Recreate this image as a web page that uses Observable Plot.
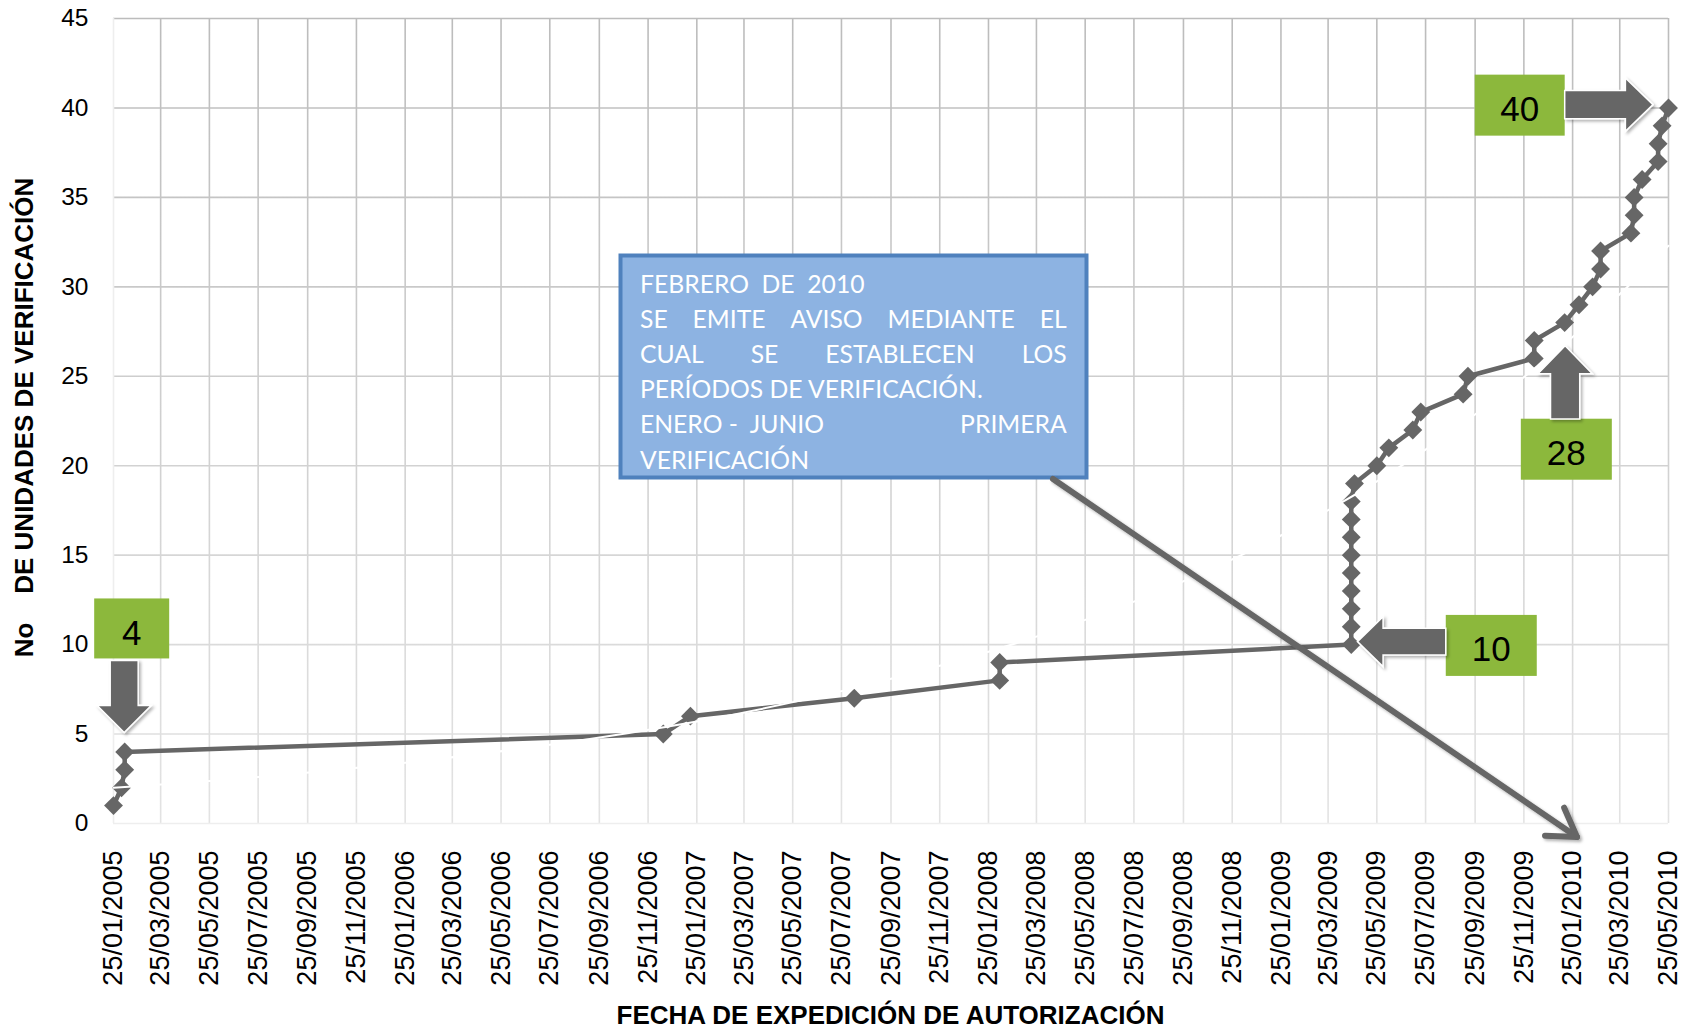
<!DOCTYPE html>
<html>
<head>
<meta charset="utf-8">
<script src="https://cdn.jsdelivr.net/npm/d3@7"></script>
<script src="https://cdn.jsdelivr.net/npm/@observablehq/plot@0.6"></script>
<style>
  html, body { margin: 0; padding: 0; background: #ffffff; }
  #chart { position: relative; width: 1687px; height: 1029px; overflow: hidden; }
</style>
</head>
<body>
<div id="chart"></div>
<script>
// ---------------- DATA ----------------
const pointDates = [
  "25/01/2005","04/02/2005","08/02/2005","08/02/2005",
  "14/12/2006","17/01/2007","10/08/2007","08/02/2008","08/02/2008",
  "23/04/2009","23/04/2009","23/04/2009","23/04/2009","23/04/2009",
  "23/04/2009","23/04/2009","23/04/2009","23/04/2009",
  "27/04/2009","25/05/2009","09/06/2009","09/07/2009","19/07/2009",
  "10/09/2009","16/09/2009","08/12/2009","08/12/2009",
  "15/01/2010","02/02/2010","19/02/2010","01/03/2010","01/03/2010",
  "08/04/2010","12/04/2010","12/04/2010","22/04/2010",
  "12/05/2010","12/05/2010","17/05/2010","25/05/2010"
];
const pointValues = [
  1, 2, 3, 4,
  5, 6, 7, 8, 9,
  10, 11, 12, 13, 14, 15, 16, 17, 18,
  19, 20, 21, 22, 23,
  24, 25, 26, 27,
  28, 29, 30, 31, 32,
  33, 34, 35, 36,
  37, 38, 39, 40
];
// light trend line
const trendDates = [
  "25/01/2005","25/07/2005","25/01/2006","25/07/2006","25/01/2007","25/07/2007",
  "25/01/2008","25/07/2008","25/01/2009","25/07/2009","25/01/2010","25/05/2010"
];
const trendValues = [2.0, 2.6, 3.4, 4.4, 5.7, 7.4, 9.6, 12.4, 16.1, 20.9, 27.2, 32.3];

const xTickLabels = [
  "25/01/2005","25/03/2005","25/05/2005","25/07/2005","25/09/2005","25/11/2005",
  "25/01/2006","25/03/2006","25/05/2006","25/07/2006","25/09/2006","25/11/2006",
  "25/01/2007","25/03/2007","25/05/2007","25/07/2007","25/09/2007","25/11/2007",
  "25/01/2008","25/03/2008","25/05/2008","25/07/2008","25/09/2008","25/11/2008",
  "25/01/2009","25/03/2009","25/05/2009","25/07/2009","25/09/2009","25/11/2009",
  "25/01/2010","25/03/2010","25/05/2010"
];
const yTicks = [0, 5, 10, 15, 20, 25, 30, 35, 40, 45];

const calloutLabels = ["4", "10", "28", "40"];
const calloutDates = ["08/02/2005", "23/04/2009", "15/01/2010", "25/05/2010"];
const calloutValues = [4, 10, 28, 40];

const noteLines = [
  {parts: ["FEBRERO  DE  2010"], justify: false},
  {parts: ["SE", "EMITE", "AVISO", "MEDIANTE", "EL"], justify: true},
  {parts: ["CUAL", "SE", "ESTABLECEN", "LOS"], justify: true},
  {parts: ["PERÍODOS DE VERIFICACIÓN."], justify: false},
  {parts: ["ENERO -  JUNIO", "PRIMERA"], justify: true},
  {parts: ["VERIFICACIÓN"], justify: false}
];
const xTitle = "FECHA DE EXPEDICIÓN DE AUTORIZACIÓN";
const yTitle = "No    DE UNIDADES DE VERIFICACIÓN";

// ---------------- BUILD ----------------
const parse = d3.utcParse("%d/%m/%Y");
const points = pointDates.map((d, i) => ({date: parse(d), value: pointValues[i]}));
const trend = trendDates.map((d, i) => ({date: parse(d), value: trendValues[i]}));
const xTicks = xTickLabels.map(parse);

const FONT = "'Liberation Sans', Arial, sans-serif";
const DARK = "#666666";

const chart = Plot.plot({
  width: 1687,
  height: 1029,
  marginLeft: 113,
  marginRight: 19,
  marginTop: 18,
  marginBottom: 206,
  x: {type: "utc", domain: [xTicks[0], xTicks[xTicks.length - 1]]},
  y: {domain: [0, 45]},
  style: {fontFamily: FONT, background: "#ffffff", color: "#000000", overflow: "visible"},
  marks: [
    Plot.gridX(xTicks.slice(1), {stroke: "url(#gridGrad)", strokeOpacity: 1, strokeWidth: 1.6}),
    Plot.gridY(yTicks.slice(1), {stroke: "url(#gridGrad)", strokeOpacity: 1, strokeWidth: 1.6}),
    Plot.ruleX([xTicks[0]], {stroke: "#eeeeee", strokeWidth: 1.6}),
    Plot.ruleY([0], {stroke: "#eeeeee", strokeWidth: 1.6}),
    Plot.axisY(yTicks, {tickSize: 0, tickPadding: 25, fontSize: 24.5, label: null}),
    Plot.axisX(xTicks, {
      tickSize: 0, tickPadding: 27, tickRotate: -90, fontSize: 27, label: null,
      tickFormat: d3.utcFormat("%d/%m/%Y")
    }),
    Plot.line(points, {x: "date", y: "value", stroke: DARK, strokeWidth: 4.5}),
    Plot.dot(points, {x: "date", y: "value", symbol: "diamond2", r: 8.5, fill: DARK, stroke: "none"}),
    Plot.line(trend, {x: "date", y: "value", stroke: "#ffffff", strokeWidth: 2, curve: "natural"})
  ]
});

document.getElementById("chart").appendChild(chart);

const svg = d3.select(chart);
const sx = chart.scale("x"), sy = chart.scale("y");
const [r0, r1] = sx.range;
const [b0, t0] = sy.range; // bottom, top

// defs: grid gradient + shadow
const defs = svg.insert("defs", ":first-child");
const grad = defs.append("linearGradient")
  .attr("id", "gridGrad").attr("gradientUnits", "userSpaceOnUse")
  .attr("x1", 0).attr("x2", 0).attr("y1", t0).attr("y2", b0);
grad.append("stop").attr("offset", "0%").attr("stop-color", "#bcbcbc");
grad.append("stop").attr("offset", "100%").attr("stop-color", "#e3e3e3");
const filt = defs.append("filter").attr("id", "shadow")
  .attr("x", "-20%").attr("y", "-20%").attr("width", "140%").attr("height", "140%");
filt.append("feDropShadow").attr("dx", 2).attr("dy", 2).attr("stdDeviation", 1.6)
  .attr("flood-color", "#000").attr("flood-opacity", 0.3);

const ann = svg.append("g").attr("class", "annotations").attr("text-anchor", "start");

// block arrow pointing along angle (deg), tip at (tx, ty)
function blockArrow(tx, ty, angle, hl, hh, sh, sl) {
  const pts = [[0,0],[-hl,-hh],[-hl,-sh],[-hl-sl,-sh],[-hl-sl,sh],[-hl,sh],[-hl,hh]];
  const a = angle * Math.PI / 180, c = Math.cos(a), s = Math.sin(a);
  const p = pts.map(([x, y]) => [tx + x * c - y * s, ty + x * s + y * c]);
  ann.append("polygon").attr("points", p.map(d => d.join(",")).join(" "))
    .attr("fill", DARK).attr("stroke", "#ffffff").attr("stroke-width", 1.5)
    .attr("filter", "url(#shadow)");
}
function greenBox(x0, y0, w, h, label) {
  ann.append("rect").attr("x", x0).attr("y", y0).attr("width", w).attr("height", h)
    .attr("fill", "#8cb83c");
  ann.append("text").attr("x", x0 + w / 2).attr("y", y0 + 46.5)
    .attr("text-anchor", "middle").attr("font-family", FONT).attr("font-size", 35)
    .attr("fill", "#000").text(label);
}

// callout layouts (offsets relative to the targeted data point)
const layouts = [
  {tip: [0, -19], angle: 90, hl: 27, hh: 27, sh: 14, sl: 45, box: [-30, -134, 75, 60]},
  {tip: [6.7, -2.5], angle: 180, hl: 25.6, hh: 25, sh: 13.3, sl: 62.7, box: [88.3, -26.7, 91, 61]},
  {tip: [1, 23.6], angle: -90, hl: 28, hh: 27.2, sh: 14.6, sl: 45.3, box: [-44.3, 73, 91, 61]},
  {tip: [-15, -2.8], angle: 0, hl: 27.6, hh: 26.7, sh: 14.2, sl: 60.7, box: [-178.3, -30, 90, 61]}
];
calloutLabels.forEach((lab, i) => {
  const L = layouts[i];
  const px = sx.apply(parse(calloutDates[i])), py = sy.apply(calloutValues[i]);
  const tx = px + L.tip[0], ty = py + L.tip[1];
  greenBox(tx + L.box[0], ty + L.box[1], L.box[2], L.box[3], lab);
  blockArrow(tx, ty, L.angle, L.hl, L.hh, L.sh, L.sl);
});

// note box
const NB = {x: 620.5, y: 255.5, w: 466, h: 222};
ann.append("rect").attr("x", NB.x).attr("y", NB.y).attr("width", NB.w).attr("height", NB.h)
  .attr("fill", "#8db3e2").attr("stroke", "#4f81bd").attr("stroke-width", 4);

const NOTE_FONT = "Lato, 'Open Sans', sans-serif";
const textLeft = 640, textRight = 1066.7;
// size the font so "PERÍODOS DE VERIFICACIÓN." spans ~343px like the reference
const probe = ann.append("text").attr("font-family", NOTE_FONT).attr("font-size", 28)
  .attr("text-anchor", "start").style("white-space", "pre").text(noteLines[3].parts[0]);
const fs = 28 * 343 / probe.node().getComputedTextLength();
probe.remove();

noteLines.forEach((line, i) => {
  const by = 292.5 + i * 35.2;
  const make = (t) => ann.append("text").attr("font-family", NOTE_FONT).attr("font-size", fs)
    .attr("text-anchor", "start").attr("fill", "#ffffff").style("white-space", "pre")
    .attr("y", by).text(t);
  if (!line.justify || line.parts.length < 2) {
    make(line.parts.join(" ")).attr("x", textLeft);
  } else {
    const els = line.parts.map(make);
    const widths = els.map(e => e.node().getComputedTextLength());
    const gap = (textRight - textLeft - d3.sum(widths)) / (line.parts.length - 1);
    let x = textLeft;
    els.forEach((e, j) => { e.attr("x", x); x += widths[j] + gap; });
  }
});

// long arrow from note box down to the axis
const a0 = [1053, 479], a1 = [1577, 837];
const ang = Math.atan2(a1[1] - a0[1], a1[0] - a0[0]);
const armLen = 32, armAng = 32 * Math.PI / 180;
const arm1 = [a1[0] - armLen * Math.cos(ang - armAng), a1[1] - armLen * Math.sin(ang - armAng)];
const arm2 = [a1[0] - armLen * Math.cos(ang + armAng), a1[1] - armLen * Math.sin(ang + armAng)];
const lg = ann.append("g").attr("filter", "url(#shadow)")
  .attr("stroke", DARK).attr("stroke-width", 6).attr("fill", "none")
  .attr("stroke-linecap", "round").attr("stroke-linejoin", "round");
lg.append("line").attr("x1", a0[0]).attr("y1", a0[1]).attr("x2", a1[0]).attr("y2", a1[1]);
lg.append("polyline").attr("points", [arm1, a1, arm2].map(d => d.join(",")).join(" "));

// axis titles
svg.append("text").attr("x", (r0 + r1) / 2).attr("y", 1024)
  .attr("text-anchor", "middle").attr("font-family", FONT).attr("font-weight", "bold")
  .attr("font-size", 26).attr("fill", "#000").text(xTitle);
svg.append("text").attr("transform", `translate(33,${(b0 + t0) / 2 - 3}) rotate(-90)`)
  .attr("text-anchor", "middle").attr("font-family", FONT).attr("font-weight", "bold")
  .attr("font-size", 26).attr("fill", "#000").style("white-space", "pre").text(yTitle);
</script>
</body>
</html>
